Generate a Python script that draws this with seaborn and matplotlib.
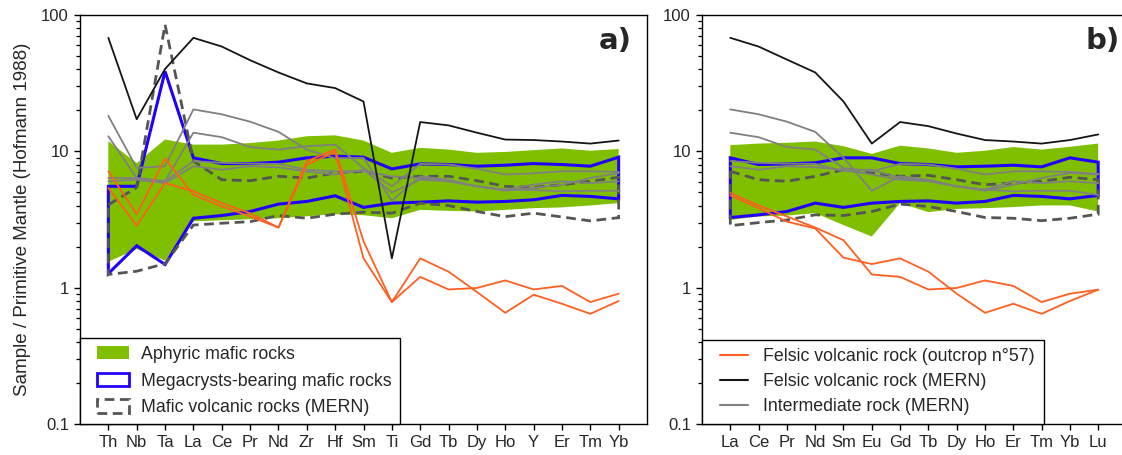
import matplotlib
matplotlib.use('Agg')
import matplotlib.pyplot as plt
import matplotlib.patches as mpatches
from matplotlib.lines import Line2D
from matplotlib.legend_handler import HandlerBase
from matplotlib.ticker import FixedLocator, FixedFormatter, LogLocator, NullFormatter
import seaborn as sns
import numpy as np
import pandas as pd

# ---- panel a: extended multi-element diagram ----
elements_a = ['Th', 'Nb', 'Ta', 'La', 'Ce', 'Pr', 'Nd', 'Zr', 'Hf', 'Sm',
              'Ti', 'Gd', 'Tb', 'Dy', 'Ho', 'Y', 'Er', 'Tm', 'Yb']

aphyric_hi_a = [11.9, 8.2, 12.2, 11.2, 11.2, 11.5, 12.0, 12.9, 13.1, 12.0,
                9.75, 10.6, 10.3, 9.75, 9.9, 10.2, 10.5, 10.1, 10.4]
aphyric_lo_a = [1.55, 1.92, 1.58, 3.07, 3.12, 3.18, 3.23, 3.34, 3.46, 3.40,
                3.23, 3.72, 3.66, 3.62, 3.72, 3.83, 3.88, 4.01, 4.17]
megacryst_hi_a = [5.54, 5.54, 38.6, 8.96, 8.13, 8.13, 8.33, 8.96, 9.22, 9.06,
                  7.43, 8.09, 8.0, 7.78, 7.91, 8.13, 8.0, 7.78, 9.06]
megacryst_lo_a = [1.27, 2.03, 1.48, 3.23, 3.38, 3.62, 4.10, 4.29, 4.72, 3.88,
                  4.17, 4.24, 4.33, 4.24, 4.29, 4.41, 4.75, 4.67, 4.48]
mafic_mern_hi_a = [4.05, 5.44, 85.0, 8.47, 6.19, 6.09, 6.56, 6.37, 6.94, 7.14,
                   6.37, 6.56, 6.56, 6.09, 5.54, 5.44, 5.69, 6.03, 6.45]
mafic_mern_lo_a = [1.25, 1.32, 1.50, 2.88, 2.97, 3.05, 3.38, 3.23, 3.46, 3.58,
                   3.52, 4.17, 4.0, 3.62, 3.32, 3.52, 3.30, 3.09, 3.26]

felsic57_a = [
    [7.14, 3.46, 8.85, 4.80, 3.94, 3.33, 2.76, 8.47, 10.3, 2.19,
     0.784, 1.2, 0.97, 0.995, 1.13, 0.97, 1.03, 0.784, 0.903],
    [5.38, 2.85, 5.85, 5.09, 4.17, 3.52, 2.76, 7.99, 9.9, 1.64,
     0.784, 1.64, 1.31, 0.93, 0.654, 0.888, 0.762, 0.643, 0.798],
]
felsic_mern_a = [
    [68.0, 17.2, 40.2, 68.0, 58.7, 46.6, 37.9, 31.5, 29.1, 23.2,
     1.64, 16.4, 15.5, 13.7, 12.2, 12.1, 11.8, 11.4, 12.0],
]
intermediate_a = [
    [18.2, 7.55, 7.78, 20.3, 18.7, 16.5, 13.9, 10.3, 8.9, 8.96,
     4.33, 6.56, 6.19, 5.54, 5.23, 5.2, 5.09, 5.14, 5.14],
    [12.9, 6.37, 6.03, 13.7, 12.7, 10.75, 10.3, 10.9, 11.2, 7.55,
     5.54, 8.09, 8.0, 7.46, 6.76, 6.9, 7.14, 7.14, 7.06],
    [6.37, 6.37, 6.03, 8.47, 8.24, 8.13, 8.09, 7.33, 7.14, 7.14,
     6.56, 6.37, 6.09, 5.54, 5.14, 5.4, 5.69, 6.37, 6.94],
    [6.03, 6.19, 5.85, 7.78, 7.33, 7.78, 7.64, 7.1, 6.76, 7.33,
     5.0, 6.19, 6.03, 5.54, 5.23, 5.7, 6.03, 5.85, 6.03],
]

# ---- panel b: REE ----
elements_b = ['La', 'Ce', 'Pr', 'Nd', 'Sm', 'Eu', 'Gd', 'Tb', 'Dy', 'Ho',
              'Er', 'Tm', 'Yb', 'Lu']

aphyric_hi_b = [11.1, 11.4, 11.55, 11.8, 10.9, 9.58, 11.0, 10.5, 9.75, 10.1,
                10.75, 10.3, 10.8, 11.4]
aphyric_lo_b = [3.14, 3.33, 3.38, 3.52, 2.88, 2.37, 4.17, 3.58, 3.78, 3.83,
                3.9, 4.01, 4.01, 3.62]
megacryst_hi_b = [8.96, 8.0, 8.09, 8.24, 8.96, 8.96, 8.13, 8.0, 7.69, 7.78,
                  7.91, 7.69, 8.96, 8.33]
megacryst_lo_b = [3.27, 3.42, 3.62, 4.17, 3.88, 4.17, 4.29, 4.33, 4.17, 4.29,
                  4.75, 4.67, 4.48, 4.75]
mafic_mern_hi_b = [7.14, 6.19, 6.03, 6.56, 7.33, 6.94, 6.56, 6.67, 6.19, 5.69,
                   5.85, 6.03, 6.45, 6.19]
mafic_mern_lo_b = [2.85, 3.0, 3.14, 3.42, 3.38, 3.62, 4.10, 3.94, 3.62, 3.27,
                   3.23, 3.10, 3.23, 3.46]

felsic57_b = [
    [4.94, 4.01, 3.33, 2.76, 2.23, 1.25, 1.2, 0.97, 0.995, 1.13,
     1.03, 0.784, 0.903, 0.967],
    [4.75, 3.83, 3.05, 2.72, 1.66, 1.49, 1.64, 1.31, 0.903, 0.654,
     0.762, 0.643, 0.798, 0.967],
]
felsic_mern_b = [
    [68.0, 58.7, 47.1, 37.9, 23.2, 11.4, 16.4, 15.3, 13.5, 12.1,
     11.8, 11.4, 12.1, 13.3],
]
intermediate_b = [
    [20.3, 18.7, 16.5, 13.9, 8.96, 5.14, 6.56, 6.19, 5.54, 5.23,
     5.09, 5.14, 5.14, 4.79],
    [13.7, 12.7, 10.75, 10.3, 7.55, 7.14, 8.09, 8.0, 7.46, 6.76,
     7.14, 7.14, 7.06, 6.82],
    [8.47, 8.24, 8.13, 8.09, 7.14, 7.33, 6.37, 6.09, 5.54, 5.14,
     5.69, 6.37, 6.94, 6.76],
    [7.78, 7.33, 7.78, 7.64, 7.33, 6.76, 6.19, 6.03, 5.54, 5.23,
     6.03, 5.85, 6.03, 5.85],
]

GREEN = '#7fbf00'
BLUE = '#2200ff'
DASH = '#555555'
ORANGE = '#ff5f1f'
GRAY = '#808080'
BLACK = '#151515'
DASHES = (0, (3.5, 2.0))

sns.set_style('ticks')
plt.rcParams['font.family'] = ['Liberation Sans', 'DejaVu Sans']
plt.rcParams['font.size'] = 12
plt.rcParams['axes.linewidth'] = 1.0


class InsetHandler(HandlerBase):
    # the legend keys sit a bit further right than matplotlib would put them
    def __init__(self, shift):
        super().__init__()
        self.shift = shift

    def create_artists(self, legend, orig_handle, xdescent, ydescent,
                       width, height, fontsize, trans):
        x0 = -xdescent + self.shift
        if isinstance(orig_handle, Line2D):
            art = Line2D([x0, x0 + width - self.shift], [height / 2 - ydescent] * 2)
        else:
            art = mpatches.Rectangle((x0, -ydescent), width - self.shift, height)
        self.update_prop(art, orig_handle, legend)
        art.set_transform(trans)
        return [art]


def envelope(ax, hi, lo, **kw):
    x = np.arange(len(hi))
    ax.fill(np.concatenate([x, x[::-1]]),
            np.concatenate([hi, lo[::-1]]), **kw)


def long_form(groups):
    rows = []
    for name, samples in groups.items():
        for k, vals in enumerate(samples):
            for i, v in enumerate(vals):
                rows.append({'pos': i, 'value': v, 'group': name, 'sample': f'{name}{k}'})
    return pd.DataFrame(rows)


def draw_panel(ax, elements, aph_hi, aph_lo, meg_hi, meg_lo, maf_hi, maf_lo,
               inter, felsic, f57):
    envelope(ax, aph_hi, aph_lo, facecolor=GREEN, edgecolor='none', zorder=1)
    envelope(ax, meg_hi, meg_lo, facecolor='none', edgecolor=BLUE,
             linewidth=2.2, zorder=2)
    envelope(ax, maf_hi, maf_lo, facecolor='none', edgecolor=DASH,
             linewidth=2.0, linestyle=DASHES, zorder=2.5)

    df = long_form({'inter': inter, 'felsic': felsic, 'f57': f57})
    sns.lineplot(data=df, x='pos', y='value', hue='group', units='sample',
                 estimator=None, hue_order=['inter', 'felsic', 'f57'],
                 palette={'inter': GRAY, 'felsic': BLACK, 'f57': ORANGE},
                 linewidth=1.3, legend=False, ax=ax, zorder=3)

    ax.set_yscale('log')
    ax.set_ylim(0.1, 100)
    ax.set_xlim(-1, len(elements))
    ax.xaxis.set_major_locator(FixedLocator(range(len(elements))))
    ax.xaxis.set_major_formatter(FixedFormatter(elements))
    ax.yaxis.set_major_locator(FixedLocator([0.1, 1, 10, 100]))
    ax.yaxis.set_major_formatter(FixedFormatter(['0.1', '1', '10', '100']))
    ax.yaxis.set_minor_locator(LogLocator(base=10, subs=np.arange(2, 10)))
    ax.yaxis.set_minor_formatter(NullFormatter())
    ax.tick_params(axis='both', which='major', direction='out', length=4.5,
                   width=1.0, labelsize=12, color='black')
    ax.tick_params(axis='y', which='minor', direction='out', length=3.2,
                   width=0.9, color='black')
    ax.set_xlabel('')
    ax.set_ylabel('')
    for sp in ax.spines.values():
        sp.set_visible(True)
        sp.set_color('black')


fig = plt.figure(figsize=(11.22, 4.55), dpi=100)
ax_a = fig.add_axes([80 / 1122, 31 / 455, 567 / 1122, 409 / 455])
ax_b = fig.add_axes([702 / 1122, 31 / 455, 424.5 / 1122, 409 / 455])

draw_panel(ax_a, elements_a, aphyric_hi_a, aphyric_lo_a, megacryst_hi_a,
           megacryst_lo_a, mafic_mern_hi_a, mafic_mern_lo_a,
           intermediate_a, felsic_mern_a, felsic57_a)
draw_panel(ax_b, elements_b, aphyric_hi_b, aphyric_lo_b, megacryst_hi_b,
           megacryst_lo_b, mafic_mern_hi_b, mafic_mern_lo_b,
           intermediate_b, felsic_mern_b, felsic57_b)

ax_a.set_ylabel('Sample / Primitive Mantle (Hofmann 1988)', fontsize=13.5, labelpad=7)

ax_a.text(0.9735, 0.936, 'a)', transform=ax_a.transAxes, ha='right', va='center',
          fontsize=21, fontweight='bold', family='DejaVu Sans')
ax_b.text(0.984, 0.936, 'b)', transform=ax_b.transAxes, ha='right', va='center',
          fontsize=21, fontweight='bold', family='DejaVu Sans')

# legends
handles_a = [
    mpatches.Patch(facecolor=GREEN, edgecolor='none', label='Aphyric mafic rocks'),
    mpatches.Patch(facecolor='white', edgecolor=BLUE, linewidth=2.0,
                   label='Megacrysts-bearing mafic rocks'),
    mpatches.Patch(facecolor='white', edgecolor=DASH, linewidth=2.0, linestyle=DASHES,
                   label='Mafic volcanic rocks (MERN)'),
]
leg_a = ax_a.legend(handles=handles_a, loc='lower left', bbox_to_anchor=(0, 0),
                    borderaxespad=0, fontsize=12.8, frameon=True, fancybox=False,
                    framealpha=1, edgecolor='black', borderpad=0.43,
                    labelspacing=0.55, handlelength=2.3, handleheight=0.8,
                    handletextpad=0.72,
                    handler_map={mpatches.Patch: InsetHandler(7)})
leg_a.get_frame().set_linewidth(1.0)
leg_a.set_zorder(5)

handles_b = [
    Line2D([], [], color=ORANGE, linewidth=1.5, label='Felsic volcanic rock (outcrop n°57)'),
    Line2D([], [], color=BLACK, linewidth=1.5, label='Felsic volcanic rock (MERN)'),
    Line2D([], [], color=GRAY, linewidth=1.5, label='Intermediate rock (MERN)'),
]
leg_b = ax_b.legend(handles=handles_b, loc='lower left', bbox_to_anchor=(0, 0),
                    borderaxespad=0, fontsize=12.8, frameon=True, fancybox=False,
                    framealpha=1, edgecolor='black', borderpad=0.5,
                    labelspacing=0.44, handlelength=2.1, handletextpad=0.84,
                    handler_map={Line2D: InsetHandler(6.6)})
leg_b.get_frame().set_linewidth(1.0)
leg_b.set_zorder(5)

fig.savefig('out.png', dpi=100)
